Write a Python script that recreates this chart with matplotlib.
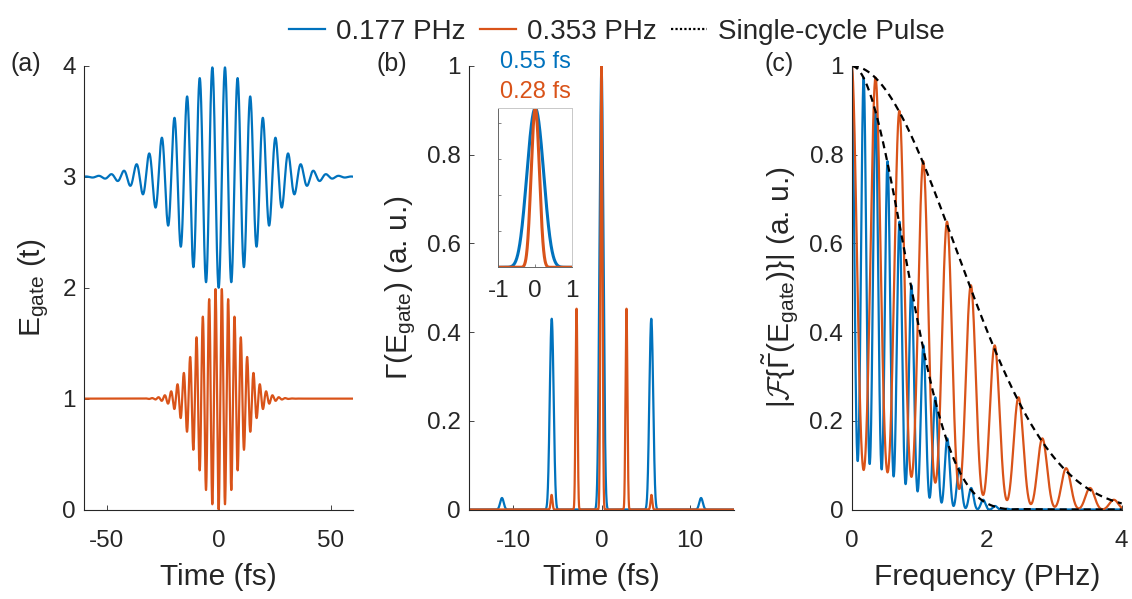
import numpy as np
import matplotlib
matplotlib.use("Agg")
import matplotlib.pyplot as plt
from matplotlib.lines import Line2D
from matplotlib.ticker import FuncFormatter

plt.rcParams['font.family'] = ['Liberation Sans', 'DejaVu Sans']
plt.rcParams['mathtext.fontset'] = 'custom'
plt.rcParams['mathtext.rm'] = 'Liberation Sans'
plt.rcParams['mathtext.it'] = 'Liberation Sans:italic'
plt.rcParams['mathtext.cal'] = 'cmsy10'

# ---- parameters ----
series_labels = ['0.177 PHz', '0.353 PHz']
carrier_phz = [0.177, 0.353]          # carrier frequencies (PHz)
envelope_sigma_fs = [17.6, 9.1]       # Gaussian envelope std (fs)
offsets = [3.0, 1.0]                  # vertical offsets in panel (a)
ion_const = 16.0                      # Gamma = exp(-a/|E|) for E<0
fwhm_labels = ['0.55 fs', '0.28 fs']
colors = ['#0072BD', '#D95319']
dashed_label = 'Single-cycle Pulse'

a_xticks = [-50, 0, 50]
a_yticks = [0, 1, 2, 3, 4]
b_xticks = [-10, 0, 10]
c_xticks = [0, 2, 4]
frac_yticks = [0, 0.2, 0.4, 0.6, 0.8, 1]
inset_xticks = [-1, 0, 1]

# ---- model ----
t = np.arange(-60, 60, 0.005)
f = np.linspace(0, 4, 1600)


def field(k):
    w = 2 * np.pi * carrier_phz[k]
    env = np.exp(-t**2 / (2 * envelope_sigma_fs[k]**2))
    return -env * np.cos(w * t)


def gamma(E):
    g = np.zeros_like(E)
    m = E < 0
    g[m] = np.exp(-ion_const / (-E[m]))
    return g / g.max()


def spectrum(g):
    m = g > 1e-10
    tt = t[m]
    gg = g[m]
    F = np.abs(np.exp(-2j * np.pi * np.outer(f, tt)) @ gg)
    return F / F[0]


fields = [field(k) for k in range(2)]
gammas = [gamma(E) for E in fields]
spectra = [spectrum(g) for g in gammas]
single = []
for k in range(2):
    T = 1.0 / carrier_phz[k]
    g = gammas[k] * (np.abs(t) < T / 2)
    single.append(spectrum(g))

# ---- figure ----
W, H = 1132, 599
fig = plt.figure(figsize=(W / 100, H / 100), dpi=100)


def px_axes(l, r, top, bot):
    return fig.add_axes([l / W, 1 - bot / H, (r - l) / W, (bot - top) / H])


ax_a = px_axes(84.3, 353, 66, 509.5)
ax_b = px_axes(469, 734, 66, 509.5)
ax_c = px_axes(851.7, 1121.7, 66, 509.5)

dark = '#262626'
TICK_FS = 17.5
LAB_FS = 21.5
fmt = FuncFormatter(lambda v, p: '%g' % v)

for ax in (ax_a, ax_b, ax_c):
    for s in ('top', 'right'):
        ax.spines[s].set_visible(False)
    for s in ('left', 'bottom'):
        ax.spines[s].set_color(dark)
        ax.spines[s].set_linewidth(0.8)
    ax.tick_params(direction='in', length=3.5, width=0.6, colors=dark,
                   labelsize=TICK_FS, labelcolor=dark)
    ax.tick_params(axis='x', pad=15)
    ax.tick_params(axis='y', pad=6)
    ax.yaxis.set_major_formatter(fmt)
    ax.xaxis.set_major_formatter(fmt)

LW = 1.6
# (a)
for k in range(2):
    ax_a.plot(t, offsets[k] + fields[k], color=colors[k], lw=LW)
ax_a.set_xlim(-60, 60)
ax_a.set_ylim(0, 4)
ax_a.set_xticks(a_xticks)
ax_a.set_yticks(a_yticks)
ax_a.set_xlabel('Time (fs)', fontsize=LAB_FS, color=dark, labelpad=7.5)
ax_a.set_ylabel(r'E$_{\mathrm{gate}}$ (t)', fontsize=LAB_FS, color=dark, labelpad=8)

# (b)
for k in range(2):
    ax_b.plot(t, gammas[k], color=colors[k], lw=LW)
ax_b.set_xlim(-15, 15)
ax_b.set_ylim(0, 1)
ax_b.set_xticks(b_xticks)
ax_b.set_yticks(frac_yticks)
ax_b.set_xlabel('Time (fs)', fontsize=LAB_FS, color=dark, labelpad=7.5)
ax_b.set_ylabel(r'Γ(E$_{\mathrm{gate}}$) (a. u.)', fontsize=LAB_FS, color=dark, labelpad=6)

# inset
ax_i = px_axes(498.3, 572.3, 108.3, 267.3)
for k in range(2):
    ax_i.plot(t, gammas[k], color=colors[k], lw=2.2)
ax_i.set_xlim(-1, 1)
ax_i.set_ylim(0, 1)
ax_i.set_xticks(inset_xticks)
ax_i.set_yticks(np.arange(1, 5) / 4.4)
ax_i.yaxis.set_ticklabels([])
ax_i.xaxis.set_major_formatter(fmt)
ax_i.tick_params(direction='in', length=2.5, width=0.5, colors='#555555',
                 labelsize=TICK_FS, labelcolor=dark, pad=9)
for s in ('top', 'right'):
    ax_i.spines[s].set_color('#c8c8c8')
for s in ('left', 'bottom'):
    ax_i.spines[s].set_color('#666666')
for s in ax_i.spines.values():
    s.set_linewidth(0.7)
for k in range(2):
    ax_i.text(0.5, 1.29 - 0.19 * k, fwhm_labels[k], transform=ax_i.transAxes,
              color=colors[k], fontsize=17, ha='center', va='center')

# (c)
for k in range(2):
    ax_c.plot(f, spectra[k], color=colors[k], lw=LW)
for k in range(2):
    ax_c.plot(f, single[k], color='black', lw=1.6, ls=(0, (3.2, 2.2)))
ax_c.set_xlim(0, 4)
ax_c.set_ylim(0, 1)
ax_c.set_xticks(c_xticks)
ax_c.set_yticks(frac_yticks)
ax_c.set_xlabel('Frequency (PHz)', fontsize=LAB_FS, color=dark, labelpad=7.5)
ax_c.set_ylabel(r'$|\mathcal{F}\{\tilde{\mathrm{\Gamma}}(\mathrm{E}_{\mathrm{gate}})\}|$ (a. u.)',
                fontsize=LAB_FS, color=dark, labelpad=6)

# panel letters
for x, s in ((10, '(a)'), (377, '(b)'), (765, '(c)')):
    fig.text(x / W, 1 - 64 / H, s, fontsize=18, color=dark, ha='left', va='center')

handles = [Line2D([], [], color=colors[0], lw=LW),
           Line2D([], [], color=colors[1], lw=LW),
           Line2D([], [], color='black', lw=1.6, ls=(0, (1, 1)))]
fig.legend(handles, series_labels + [dashed_label], loc='upper center',
           bbox_to_anchor=(0.545, 1.01), ncol=3, frameon=False, fontsize=20,
           handlelength=1.3, handletextpad=0.4, columnspacing=0.5,
           labelcolor=dark)

fig.savefig('out.png', dpi=100)
